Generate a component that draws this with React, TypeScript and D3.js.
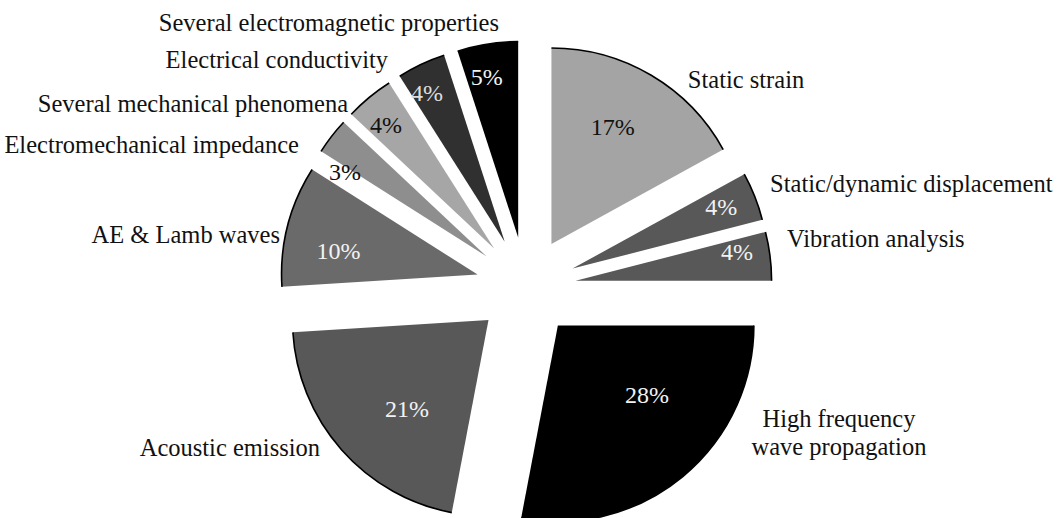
import React from "react";
import * as d3 from "d3";

// Share of SHM sensing applications (%), clockwise from 12 o'clock
const categories = [
  "Static strain",
  "Static/dynamic displacement",
  "Vibration analysis",
  "High frequency wave propagation",
  "Acoustic emission",
  "AE & Lamb waves",
  "Electromechanical impedance",
  "Several mechanical phenomena",
  "Electrical conductivity",
  "Several electromagnetic properties",
];
const shares = [17, 4, 4, 28, 21, 10, 3, 4, 4, 5];

// Category label text lines (a slice name may wrap)
const labelLines = [
  ["Static strain"],
  ["Static/dynamic displacement"],
  ["Vibration analysis"],
  ["High frequency", "wave propagation"],
  ["Acoustic emission"],
  ["AE & Lamb waves"],
  ["Electromechanical impedance"],
  ["Several mechanical phenomena"],
  ["Electrical conductivity"],
  ["Several electromagnetic properties"],
];

// Styling and layout
const W = 1059;
const H = 518;
const CX = 526;
const CY = 287;
const R = 196;
const EXPLODE = 50;
const FONT = "Liberation Serif, Tinos, Times New Roman, DejaVu Serif, serif";
const FONT_SIZE = 24.5;

const fills = [
  "#a4a4a4",
  "#585858",
  "#585858",
  "#000000",
  "#585858",
  "#6a6a6a",
  "#8e8e8e",
  "#a6a6a6",
  "#303030",
  "#000000",
];
const pctColors = [
  "#111",
  "#f2f2f2",
  "#f2f2f2",
  "#f2f2f2",
  "#f2f2f2",
  "#f2f2f2",
  "#111",
  "#111",
  "#dddddd",
  "#f2f2f2",
];
// Percentage label placement: polar (degrees clockwise from top, distance from slice tip)
const pctAngle = [27.7, 67.5, 79.6, 128, 222.8, 279.6, 301, 318.8, 332.4, 349];
const pctDist = [132, 161, 164, 113, 120, 141, 165, 164, 168, 164.5];
// Category label placement, same polar convention
const nameAngle = [39.6, 66.8, 78.6, 110.8, 232.9, 281.5, 300.8, 314.8, 327.4, 354.9];
const nameDist = [214, 215, 215.7, 300.7, 211.2, 201.6, 218.4, 205.9, 216.5, 216];
const nameAnchor = ["start", "start", "start", "middle", "end", "end", "end", "end", "end", "end"];

const polar = (deg: number, r: number): [number, number] => {
  const a = (deg * Math.PI) / 180;
  return [r * Math.sin(a), -r * Math.cos(a)];
};

export default function App() {
  const pie = d3
    .pie<number>()
    .sort(null)
    .value((v) => v)
    .startAngle(0)
    .endAngle(2 * Math.PI);
  const arcs = pie(shares);
  const arcGen = d3.arc<d3.PieArcDatum<number>>().innerRadius(0).outerRadius(R);

  return (
    <svg
      width={W}
      height={H}
      viewBox={`0 0 ${W} ${H}`}
      style={{ position: "absolute", left: 0, top: 0, background: "#fff", fontFamily: FONT }}
    >
      <rect width={W} height={H} fill="#fff" />
      <g transform={`translate(${CX},${CY})`}>
        {arcs.map((a, i) => {
          const mid = (a.startAngle + a.endAngle) / 2;
          const dx = EXPLODE * Math.sin(mid);
          const dy = -EXPLODE * Math.cos(mid);
          const rim = d3.path();
          rim.arc(0, 0, R, a.startAngle - Math.PI / 2, a.endAngle - Math.PI / 2);
          const [px, py] = polar(pctAngle[i], pctDist[i]);
          const [nx, ny] = polar(nameAngle[i], nameDist[i]);
          const lines = labelLines[i];
          const lh = 28;
          return (
            <g key={categories[i]} transform={`translate(${dx},${dy})`}>
              <path d={arcGen(a) || ""} fill={fills[i]} />
              <path d={rim.toString()} fill="none" stroke="#000" strokeWidth={1.6} />
              <text
                x={px}
                y={py}
                dy="0.35em"
                textAnchor="middle"
                style={{ fontFamily: FONT, fontSize: 24 }}
                fill={pctColors[i]}
              >
                {`${shares[i]}%`}
              </text>
              <text
                x={nx}
                y={ny}
                textAnchor={nameAnchor[i] as any}
                style={{ fontFamily: FONT, fontSize: FONT_SIZE }}
                fill="#111"
              >
                {lines.map((ln, k) => (
                  <tspan
                    key={k}
                    x={nx}
                    y={ny + (k - (lines.length - 1) / 2) * lh}
                    dy="0.35em"
                  >
                    {ln}
                  </tspan>
                ))}
              </text>
            </g>
          );
        })}
      </g>
    </svg>
  );
}
